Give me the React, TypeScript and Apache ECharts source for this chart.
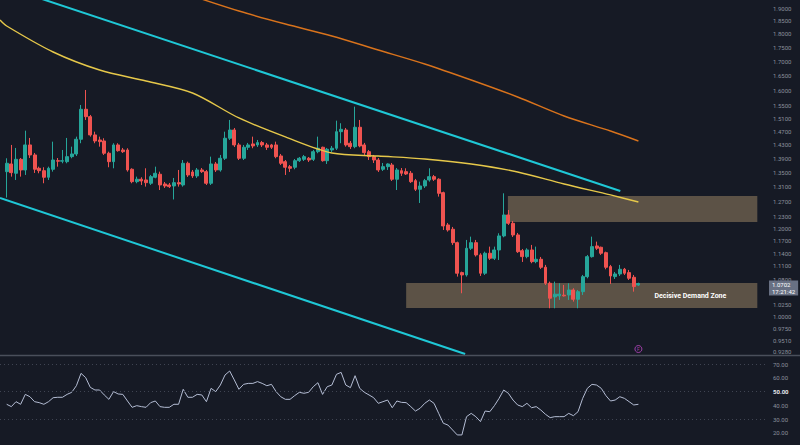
import React, { useEffect, useRef } from "react";
import * as echarts from "echarts";

// [open, close, low, high]
const candles: number[][] = [
  [1.3511, 1.3749, 1.28, 1.3893],
  [1.3729, 1.3483, 1.3371, 1.4284],
  [1.3466, 1.3863, 1.3279, 1.4195],
  [1.3863, 1.3558, 1.3371, 1.3901],
  [1.3558, 1.4284, 1.3418, 1.4715],
  [1.4284, 1.3989, 1.3901, 1.4494],
  [1.3989, 1.3578, 1.3474, 1.4047],
  [1.3606, 1.3538, 1.3466, 1.3652],
  [1.3538, 1.3354, 1.3188, 1.3635],
  [1.3354, 1.3606, 1.3279, 1.3652],
  [1.3578, 1.3843, 1.3511, 1.4382],
  [1.3823, 1.381, 1.3652, 1.3901],
  [1.381, 1.3823, 1.3749, 1.4135],
  [1.3795, 1.394, 1.3749, 1.4494],
  [1.394, 1.4018, 1.3893, 1.4233],
  [1.4018, 1.4454, 1.396, 1.4533],
  [1.4454, 1.5386, 1.4335, 1.5525],
  [1.5386, 1.5151, 1.5047, 1.6017],
  [1.5151, 1.4585, 1.4533, 1.5205],
  [1.4585, 1.4403, 1.4335, 1.4684],
  [1.4433, 1.4382, 1.4233, 1.4533],
  [1.4403, 1.4039, 1.3989, 1.4485],
  [1.4039, 1.3795, 1.3635, 1.4085],
  [1.3795, 1.4284, 1.3606, 1.4335],
  [1.4284, 1.4115, 1.4085, 1.4335],
  [1.4135, 1.4085, 1.4047, 1.4195],
  [1.4135, 1.3558, 1.3511, 1.4186],
  [1.3578, 1.3232, 1.3188, 1.3606],
  [1.3232, 1.3299, 1.3188, 1.3371],
  [1.3299, 1.3252, 1.3141, 1.3354],
  [1.3279, 1.3205, 1.3096, 1.3606],
  [1.3188, 1.3371, 1.3141, 1.3418],
  [1.3354, 1.3466, 1.3326, 1.3652],
  [1.3438, 1.3141, 1.3004, 1.3511],
  [1.3169, 1.3114, 1.3059, 1.3224],
  [1.3141, 1.3096, 1.3059, 1.3196],
  [1.3114, 1.3205, 1.275, 1.3335],
  [1.3205, 1.3169, 1.3096, 1.3558],
  [1.3141, 1.3749, 1.3096, 1.3843],
  [1.3749, 1.3418, 1.3363, 1.3795],
  [1.3502, 1.3391, 1.3335, 1.3558],
  [1.3391, 1.3558, 1.3335, 1.3614],
  [1.3558, 1.3511, 1.3474, 1.3614],
  [1.3511, 1.3188, 1.3141, 1.3558],
  [1.3188, 1.3729, 1.3141, 1.394],
  [1.3729, 1.3558, 1.3502, 1.3786],
  [1.3558, 1.3893, 1.3511, 1.3989],
  [1.3893, 1.4485, 1.3843, 1.4684],
  [1.4485, 1.4736, 1.4433, 1.5047],
  [1.4736, 1.4284, 1.4224, 1.4798],
  [1.4284, 1.3893, 1.3843, 1.4344],
  [1.3893, 1.4215, 1.3843, 1.4284],
  [1.4215, 1.4284, 1.4135, 1.4344],
  [1.4314, 1.4254, 1.4186, 1.4533],
  [1.4284, 1.4354, 1.4224, 1.4433],
  [1.4354, 1.4284, 1.4224, 1.4403],
  [1.4284, 1.4215, 1.4135, 1.4344],
  [1.4284, 1.4215, 1.4165, 1.4314],
  [1.4284, 1.394, 1.3893, 1.4382],
  [1.396, 1.3749, 1.37, 1.4018],
  [1.3795, 1.3635, 1.3418, 1.3843],
  [1.3652, 1.3606, 1.3502, 1.37],
  [1.3635, 1.3823, 1.3578, 1.3872],
  [1.3823, 1.3893, 1.3786, 1.393],
  [1.3863, 1.394, 1.3814, 1.3989],
  [1.3893, 1.3843, 1.3786, 1.393],
  [1.3863, 1.4085, 1.3814, 1.4135],
  [1.4085, 1.4186, 1.4039, 1.4533],
  [1.4215, 1.3823, 1.3795, 1.4233],
  [1.3823, 1.4156, 1.3729, 1.4195],
  [1.4135, 1.4186, 1.4076, 1.4254],
  [1.4186, 1.4684, 1.4135, 1.5025],
  [1.4684, 1.4757, 1.4335, 1.4945],
  [1.4736, 1.4284, 1.4233, 1.4798],
  [1.4335, 1.4233, 1.4165, 1.4403],
  [1.4233, 1.482, 1.4186, 1.547],
  [1.482, 1.4254, 1.4215, 1.5047],
  [1.4284, 1.4056, 1.3989, 1.4344],
  [1.4085, 1.394, 1.3843, 1.4135],
  [1.394, 1.3843, 1.3757, 1.3989],
  [1.3843, 1.3558, 1.3502, 1.3901],
  [1.3578, 1.3652, 1.353, 1.3757],
  [1.3652, 1.3729, 1.3558, 1.3749],
  [1.37, 1.3299, 1.3252, 1.3757],
  [1.3299, 1.3558, 1.3004, 1.3614],
  [1.3538, 1.3466, 1.3391, 1.3614],
  [1.3511, 1.3446, 1.3418, 1.3606],
  [1.3466, 1.3232, 1.3196, 1.353],
  [1.326, 1.3024, 1.2977, 1.3307],
  [1.3024, 1.3114, 1.2657, 1.3232],
  [1.3114, 1.326, 1.3059, 1.3307],
  [1.3279, 1.3371, 1.3232, 1.3606],
  [1.3371, 1.3299, 1.3252, 1.3418],
  [1.3299, 1.2915, 1.2826, 1.3326],
  [1.2933, 1.2066, 1.1965, 1.2959],
  [1.2091, 1.1965, 1.1924, 1.2141],
  [1.1983, 1.1653, 1.1598, 1.2041],
  [1.1653, 1.0934, 1.0857, 1.1678],
  [1.0948, 1.0895, 1.0487, 1.0971],
  [1.0895, 1.1518, 1.0857, 1.1719],
  [1.1518, 1.1653, 1.1477, 1.18],
  [1.1653, 1.1359, 1.132, 1.1719],
  [1.1359, 1.0934, 1.0872, 1.1399],
  [1.0934, 1.1399, 1.0895, 1.1437],
  [1.1399, 1.128, 1.124, 1.1557],
  [1.128, 1.1477, 1.124, 1.1557],
  [1.1477, 1.1817, 1.124, 1.1883],
  [1.1817, 1.2345, 1.1784, 1.2915],
  [1.2345, 1.2133, 1.2091, 1.2474],
  [1.2133, 1.1842, 1.1792, 1.2192],
  [1.1842, 1.1436, 1.1406, 1.1891],
  [1.146, 1.1319, 1.1194, 1.1501],
  [1.1319, 1.1477, 1.128, 1.1518],
  [1.1477, 1.1201, 1.1164, 1.1598],
  [1.1201, 1.1257, 1.1164, 1.1557],
  [1.1257, 1.1071, 1.1032, 1.1311],
  [1.1071, 1.0708, 1.067, 1.1125],
  [1.0708, 1.0379, 1.0164, 1.0745],
  [1.0407, 1.0467, 1.0164, 1.0745],
  [1.0431, 1.0467, 1.0342, 1.0708],
  [1.0445, 1.0431, 1.0416, 1.067],
  [1.045, 1.0559, 1.0342, 1.0708],
  [1.0559, 1.0357, 1.0306, 1.0597],
  [1.0357, 1.0522, 1.0164, 1.0559],
  [1.0522, 1.0856, 1.045, 1.0895],
  [1.0856, 1.1318, 1.0819, 1.1358],
  [1.1318, 1.1557, 1.1295, 1.18],
  [1.1574, 1.1518, 1.1477, 1.1678],
  [1.1542, 1.1399, 1.1359, 1.1557],
  [1.1413, 1.1071, 1.1024, 1.1437],
  [1.1086, 1.0872, 1.0692, 1.1125],
  [1.0857, 1.0917, 1.0804, 1.0963],
  [1.0917, 1.1025, 1.0872, 1.1125],
  [1.1025, 1.0934, 1.0895, 1.1055],
  [1.0948, 1.082, 1.0781, 1.1009],
  [1.0842, 1.0634, 1.0522, 1.0895],
  [1.067, 1.0702, 1.065, 1.072],
];

const rsiValues: number[] = [
  40.7, 39.0, 42.6, 40.7, 47.9, 46.2, 42.6, 41.9, 40.7, 42.6,
  45.5, 45.8, 45.8, 47.9, 49.4, 54.2, 63.2, 60.1, 53.0, 51.1,
  51.1, 47.5, 44.3, 49.9, 48.2, 47.9, 43.1, 38.5, 39.7, 39.0,
  38.5, 41.9, 43.1, 39.0, 38.5, 38.5, 40.7, 40.7, 51.6, 45.8,
  45.8, 47.9, 47.5, 42.6, 52.3, 49.9, 54.7, 62.0, 64.9, 58.4,
  51.6, 55.2, 55.9, 55.9, 57.2, 55.9, 54.2, 55.2, 49.9, 46.2,
  44.3, 44.3, 47.0, 49.4, 48.7, 49.4, 53.5, 56.4, 47.9, 53.5,
  54.7, 62.5, 63.9, 54.7, 52.8, 61.5, 52.3, 49.4, 47.5, 45.5,
  41.4, 42.6, 43.8, 38.2, 43.1, 42.1, 41.9, 39.0, 35.8, 37.8,
  41.4, 43.8, 41.4, 34.1, 26.9, 25.6, 22.0, 18.4, 18.4, 31.7,
  34.1, 31.7, 28.1, 35.8, 35.3, 39.7, 45.0, 51.1, 48.7, 43.8,
  40.2, 39.0, 41.4, 38.2, 39.0, 36.5, 33.4, 31.0, 31.7, 31.7,
  31.7, 34.1, 32.4, 35.3, 45.0, 52.3, 55.2, 54.7, 52.3, 47.0,
  43.1, 43.8, 46.2, 45.0, 42.6, 40.2, 40.7,
];

// moving averages sampled at candle indices [index, price]
const yellowMA: number[][] = [
  [-1.44, 1.853], [0, 1.8301], [10, 1.7336], [20, 1.6697], [30, 1.6319], [40, 1.5916],
  [50, 1.5109], [60, 1.4524], [70, 1.4047], [80, 1.3959], [90, 1.3872],
  [100, 1.3728], [110, 1.3502], [120, 1.3167], [130, 1.2871], [136, 1.2684],
];
const orangeMA: number[][] = [
  [40, 1.948], [50, 1.888], [60, 1.8377], [70, 1.7923], [80, 1.7408],
  [90, 1.6908], [100, 1.6353], [110, 1.5785], [120, 1.5172], [130, 1.4704],
  [136, 1.4402],
];
// channel trend lines [index, price]
const upperChannel: number[][] = [[2.86, 1.9657], [132.1, 1.2979]];
const lowerChannel: number[][] = [[-1.44, 1.279], [98.7, 0.9241]];

// zones: [startIndex, endIndex, low, high]
const supplyZone = [107.9, 161.6, 1.2166, 1.2842];
const demandZone = [86.0, 161.6, 1.0171, 1.0714];
const demandLabel = "Decisive Demand Zone";

const priceTicks = [
  1.9, 1.85, 1.8, 1.75, 1.7, 1.65, 1.6, 1.55, 1.51, 1.47, 1.43, 1.39, 1.35,
  1.31, 1.27, 1.23, 1.2, 1.17, 1.14, 1.11, 1.08, 1.025, 1.0, 0.975, 0.951, 0.928,
];
const rsiTicks = [20, 30, 40, 50, 60, 70];
const rsiLevels = [70, 50, 30];
const countdown = "17:21:42";
const eventMarker = { index: 136, price: 0.9337, text: "F" };

const L = Math.log;
const BG = "#161a25";
const UP = "#26a69a";
const DOWN = "#ef5350";
const LABEL = "#8b909c";

export default function App() {
  const ref = useRef<HTMLDivElement>(null);
  useEffect(() => {
    document.body.style.margin = "0";
    document.body.style.background = BG;
    if (!ref.current) return;
    const chart = echarts.init(ref.current, undefined, { renderer: "svg" });
    const last = candles[candles.length - 1];
    const font = "Roboto";
    const option: any = {
      animation: false,
      backgroundColor: BG,
      grid: [
        { left: 0, right: 32, top: 0, height: 355 },
        { left: 0, right: 32, top: 357, height: 88 },
      ],
      xAxis: [
        { type: "value", gridIndex: 0, min: -1.443, max: 163.9, show: false },
        { type: "value", gridIndex: 1, min: -1.443, max: 163.9, show: false },
      ],
      yAxis: [
        {
          type: "value",
          gridIndex: 0,
          position: "right",
          min: L(1.9) - 347 / 480,
          max: L(1.9) + 8 / 480,
          splitLine: { show: false },
          axisLine: { show: false },
          axisTick: { show: false },
          axisLabel: {
            customValues: priceTicks.map(L),
            formatter: (v: number) => Math.exp(v).toFixed(4),
            color: LABEL,
            fontSize: 6,
            fontFamily: font,
            margin: 5,
          },
        },
        {
          type: "value",
          gridIndex: 1,
          position: "right",
          min: 30 - 26 / 1.375,
          max: 70 + 7 / 1.375,
          splitLine: { show: false },
          axisLine: { show: false },
          axisTick: { show: false },
          axisLabel: {
            customValues: rsiTicks,
            formatter: (v: number) =>
              v === 50 ? "{b|" + v.toFixed(2) + "}" : "{n|" + v.toFixed(2) + "}",
            rich: {
              n: { color: LABEL, fontSize: 6, fontFamily: font },
              b: { color: "#e6e8ee", fontSize: 6, fontFamily: font, fontWeight: "bold" },
            },
            margin: 5,
          },
        },
      ],
      graphic: [
        {
          type: "line",
          shape: { x1: 0, y1: 355.5, x2: 800, y2: 355.5 },
          style: { stroke: "#4a4f5b", lineWidth: 1.5 },
          z: 10,
        },
      ],
      series: [
        {
          type: "line",
          name: "MA200",
          xAxisIndex: 0,
          yAxisIndex: 0,
          data: orangeMA.map(([i, p]) => [i, L(p)]),
          smooth: 0.3,
          symbol: "none",
          lineStyle: { color: "#d9731c", width: 1.4 },
          z: 1,
          markArea: {
            silent: true,
            itemStyle: { color: "rgba(178,150,110,0.45)" },
            data: [
              [
                { coord: [supplyZone[0], L(supplyZone[3])] },
                { coord: [supplyZone[1], L(supplyZone[2])] },
              ],
              [
                {
                  name: demandLabel,
                  coord: [demandZone[0], L(demandZone[3])],
                  label: {
                    show: true,
                    position: "insideRight",
                    offset: [-26, 1],
                    color: "#ffffff",
                    fontWeight: "bold",
                    fontSize: 7,
                    fontFamily: font,
                  },
                },
                { coord: [demandZone[1], L(demandZone[2])] },
              ],
            ],
          },
        },
        {
          type: "candlestick",
          xAxisIndex: 0,
          yAxisIndex: 0,
          barWidth: 3.4,
          data: candles.map((c, i) => [i, L(c[0]), L(c[1]), L(c[2]), L(c[3])]),
          encode: { x: 0, y: [1, 2, 3, 4] },
          itemStyle: {
            color: UP,
            color0: DOWN,
            borderColor: UP,
            borderColor0: DOWN,
            borderWidth: 1,
          },
          z: 2,
          markLine: {
            silent: true,
            symbol: "none",
            lineStyle: { color: "rgba(0,0,0,0)", width: 1, type: "solid" },
            z: 20,
            data: [
              {
                yAxis: L(last[1]),
                label: {
                  show: true,
                  position: "end",
                  distance: 1,
                  formatter: last[1].toFixed(4) + "\n" + countdown,
                  backgroundColor: "#687083",
                  color: "#ffffff",
                  opacity: 1,
                  fontSize: 6,
                  lineHeight: 6.5,
                  fontFamily: font,
                  padding: [1, 3, 1, 3],
                  offset: [0, 5.5],
                },
              },
            ],
          },
        },
        {
          type: "line",
          name: "MA100",
          xAxisIndex: 0,
          yAxisIndex: 0,
          data: yellowMA.map(([i, p]) => [i, L(p)]),
          smooth: 0.3,
          symbol: "none",
          lineStyle: { color: "#e6c84a", width: 1.4 },
          z: 3,
        },
        {
          type: "line",
          xAxisIndex: 0,
          yAxisIndex: 0,
          data: upperChannel.map(([i, p]) => [i, L(p)]),
          symbol: "none",
          lineStyle: { color: "#1fc8d6", width: 2 },
          z: 3,
        },
        {
          type: "line",
          xAxisIndex: 0,
          yAxisIndex: 0,
          data: lowerChannel.map(([i, p]) => [i, L(p)]),
          symbol: "none",
          lineStyle: { color: "#1fc8d6", width: 2 },
          z: 3,
        },
        {
          type: "scatter",
          xAxisIndex: 0,
          yAxisIndex: 0,
          data: [[eventMarker.index, L(eventMarker.price)]],
          symbol: "circle",
          symbolSize: 7,
          itemStyle: { color: "rgba(0,0,0,0)", borderColor: "#c048c8", borderWidth: 1 },
          label: {
            show: true,
            position: "inside",
            formatter: eventMarker.text,
            color: "#c048c8",
            fontSize: 5,
            fontFamily: font,
          },
          z: 4,
        },
        {
          type: "line",
          xAxisIndex: 1,
          yAxisIndex: 1,
          data: rsiValues.map((v, i) => [i, v]),
          symbol: "none",
          lineStyle: { color: "#b4bdd4", width: 1 },
          markLine: {
            silent: true,
            symbol: "none",
            label: { show: false },
            lineStyle: { color: "#3f4452", type: [1, 3], width: 1 },
            data: rsiLevels.map((v) => ({ yAxis: v })),
          },
        },
      ],
    };
    chart.setOption(option);
    return () => chart.dispose();
  }, []);
  return <div ref={ref} style={{ width: 800, height: 445 }} />;
}
